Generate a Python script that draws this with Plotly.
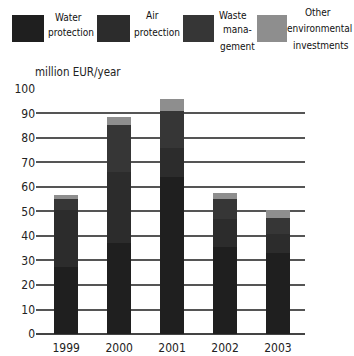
import plotly.graph_objects as go

# Environmental protection investments, million EUR per year
years = ["1999", "2000", "2001", "2002", "2003"]
water_protection = [27.5, 37, 64, 35.5, 33]
air_protection = [23, 29, 12, 11.5, 8]
waste_management = [4.5, 19.5, 15, 8, 6.5]
other_investments = [1.7, 3, 5, 2.5, 3]

series_names = ["Water protection", "Air protection",
                "Waste management", "Other environmental investments"]
caption_lines = [["Water", "protection"], ["Air", "protection"],
                 ["Waste", "mana-", "gement"], ["Other", "environmental", "investments"]]
series_values = [water_protection, air_protection, waste_management, other_investments]
series_colors = ["#1f1f1f", "#2c2c2c", "#363636", "#8e8e8e"]

FONT = "DejaVu Sans Condensed, Liberation Sans Narrow, sans-serif"
W, H = 354, 356
L, R, T, B = 36, 49, 88, 22
PW, PH = W - L - R, H - T - B


def px_x(px):
    return (px - L) / PW


def px_y(py):
    return (H - B - py) / PH


x_pos = list(range(len(years)))

fig = go.Figure()
for name, vals, col in zip(series_names, series_values, series_colors):
    fig.add_trace(go.Bar(
        x=x_pos, y=vals, name=name,
        marker=dict(color=col, line=dict(width=0)),
        width=0.46, showlegend=False,
    ))

# Legend drawn as swatches with centred captions, one annotation per line
swatches = [(12, 44), (97, 130), (183, 214), (257, 287)]
caption_pos = [[(68, 17), (71, 33)],
               [(152, 15), (157, 33)],
               [(233, 15), (237, 30), (237, 46)],
               [(318, 12), (319, 28), (321, 45)]]
for (x0, x1), lines, spots, col in zip(swatches, caption_lines, caption_pos, series_colors):
    fig.add_shape(type="rect", xref="paper", yref="paper",
                  x0=px_x(x0), x1=px_x(x1), y0=px_y(42), y1=px_y(15),
                  fillcolor=col, line=dict(width=0), layer="above")
    for line, (cx, cy) in zip(lines, spots):
        fig.add_annotation(x=px_x(cx), y=px_y(cy), xref="paper", yref="paper",
                           text=line, showarrow=False,
                           xanchor="center", yanchor="middle",
                           font=dict(family=FONT, size=10, color="#111111"))

fig.add_annotation(x=px_x(33), y=px_y(72), xref="paper", yref="paper",
                   text="million EUR/year", showarrow=False,
                   xanchor="left", yanchor="middle",
                   font=dict(family=FONT, size=11.5, color="#222222"))

fig.update_layout(
    width=W, height=H, barmode="stack", bargap=0,
    margin=dict(l=L, r=R, t=T, b=B, autoexpand=False),
    paper_bgcolor="white", plot_bgcolor="white",
    font=dict(family=FONT, size=12, color="#222222"),
    xaxis=dict(range=[-0.57, 4.51], tickvals=x_pos, ticktext=years,
               showgrid=False, zeroline=False, showline=False, ticks="",
               ticklabelstandoff=5, automargin=False, fixedrange=True),
    yaxis=dict(range=[0, 100.4], dtick=10, tick0=0,
               showgrid=True, gridcolor="#555555", gridwidth=1.5,
               zeroline=True, zerolinecolor="#444444", zerolinewidth=1.5,
               showline=False, ticks="", automargin=False, fixedrange=True),
)

fig.write_html("out.html")
